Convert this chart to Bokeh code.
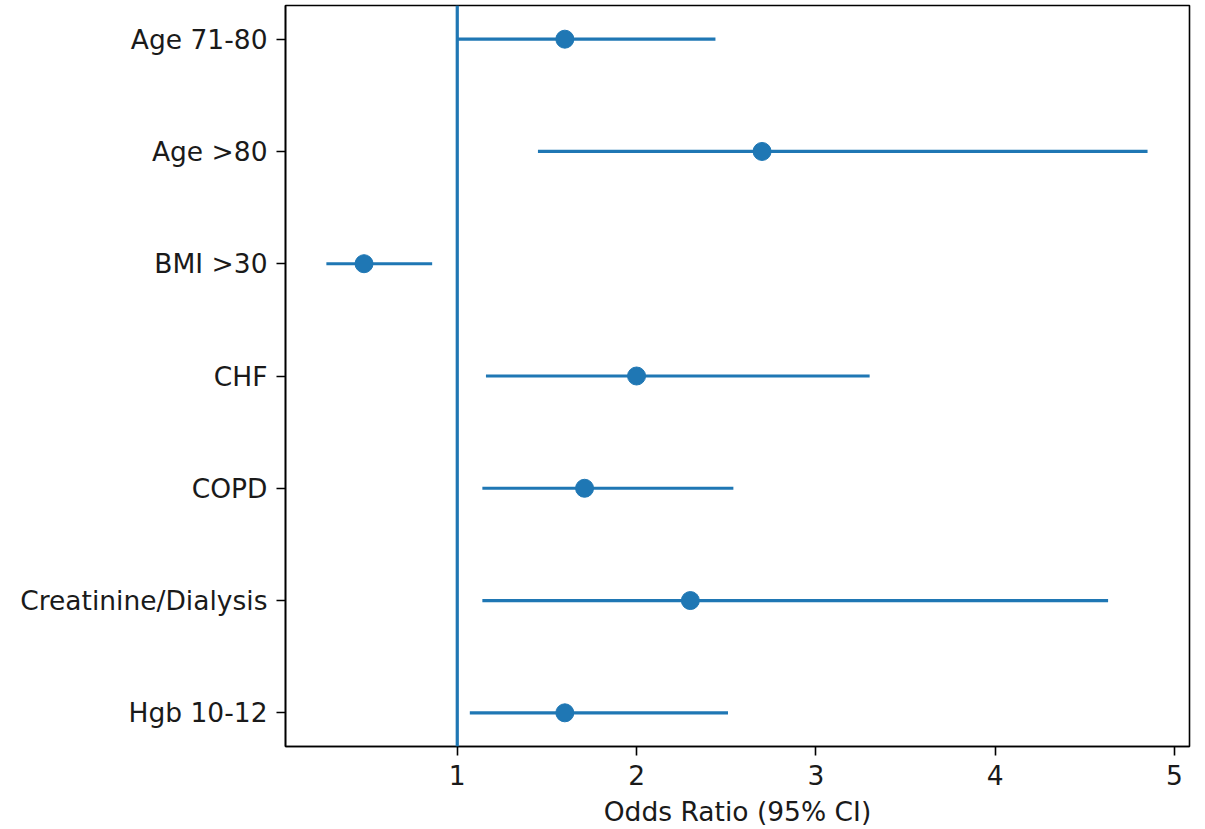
from bokeh.plotting import figure
from bokeh.models import Range1d, FixedTicker, Span, ColumnDataSource
from bokeh.embed import file_html
from bokeh.resources import INLINE

categories = ["Age 71-80", "Age >80", "BMI >30", "CHF", "COPD", "Creatinine/Dialysis", "Hgb 10-12"]
odds_ratio = [1.60, 2.70, 0.48, 2.00, 1.71, 2.30, 1.60]
ci_low = [1.00, 1.45, 0.27, 1.16, 1.14, 1.14, 1.07]
ci_high = [2.44, 4.85, 0.86, 3.30, 2.54, 4.63, 2.51]
x_ticks = [1, 2, 3, 4, 5]
reference_value = 1

ypos = list(range(len(categories)))
src = ColumnDataSource(dict(y=ypos, orr=odds_ratio, lo=ci_low, hi=ci_high))

BLUE = "#1f77b4"
FONT = "DejaVu Sans"
FS = "26.5px"

p = figure(width=1205, height=829, output_backend="svg", toolbar_location=None,
           x_range=Range1d(0.042, 5.084), y_range=Range1d(len(categories) - 1 + 0.3, -0.3),
           min_border_left=285, min_border_right=16, min_border_top=5, min_border_bottom=83)

p.segment(x0="lo", y0="y", x1="hi", y1="y", source=src, line_color=BLUE, line_width=3.2)
p.scatter(x="orr", y="y", source=src, size=18, fill_color=BLUE, line_color=BLUE)
p.add_layout(Span(location=reference_value, dimension="height", line_color=BLUE, line_width=3.2))

p.grid.visible = False
p.outline_line_color = "black"
p.outline_line_width = 1.6
p.outline_line_alpha = 1

for ax in (p.xaxis[0], p.yaxis[0]):
    ax.axis_line_color = "black"
    ax.axis_line_width = 1.6
    ax.major_tick_line_color = "black"
    ax.major_tick_line_width = 1.6
    ax.major_tick_out = 9
    ax.major_tick_in = 0
    ax.minor_tick_line_color = None
    ax.major_label_text_font = FONT
    ax.major_label_text_font_size = FS
    ax.major_label_text_color = "#1a1a1a"
    ax.major_label_standoff = 9

p.xaxis.ticker = FixedTicker(ticks=x_ticks)
p.xaxis.major_label_overrides = {t: str(t) for t in x_ticks}
p.xaxis.major_label_standoff = 9
p.xaxis.axis_label = "Odds Ratio (95% CI)"
p.xaxis.axis_label_text_font = FONT
p.xaxis.axis_label_text_font_size = FS
p.xaxis.axis_label_text_font_style = "normal"
p.xaxis.axis_label_text_color = "#1a1a1a"
p.xaxis.axis_label_standoff = 8

p.yaxis.ticker = FixedTicker(ticks=ypos)
p.yaxis.major_label_overrides = {i: c for i, c in enumerate(categories)}

open("out.html", "w").write(file_html(p, INLINE))
